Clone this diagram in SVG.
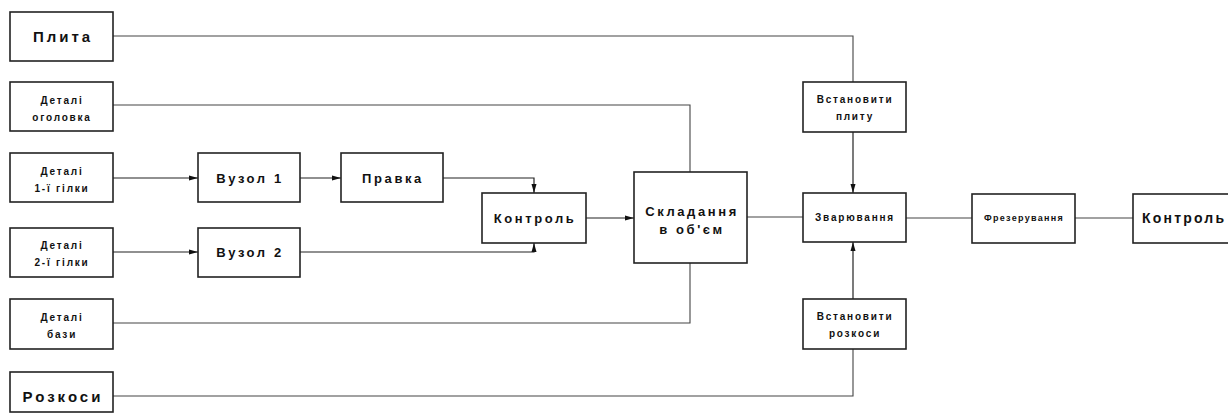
<svg xmlns="http://www.w3.org/2000/svg" width="1228" height="414" viewBox="0 0 1228 414">
  <style>
    .box { fill: #fff; stroke: #222; stroke-width: 1.6; }
    .wire { fill: none; stroke: #444; stroke-width: 1.1; }
    .arr { fill: none; stroke: #222; stroke-width: 1.2; }
    text { font-family: "Liberation Sans", Arial, sans-serif; fill: #111; text-anchor: middle; }
    .big { font-size: 15px; letter-spacing: 3px; font-weight: bold; }
    .mid { font-size: 13px; letter-spacing: 2.6px; font-weight: bold; }
    .sm { font-size: 10px; letter-spacing: 1.8px; font-weight: bold; }
    .xs { font-size: 9px; letter-spacing: 1.3px; font-weight: bold; }
  </style>
  <defs>
    <marker id="ah" markerWidth="9" markerHeight="6" refX="9" refY="3" orient="auto" markerUnits="userSpaceOnUse">
      <path d="M0,0.5 L9,3 L0,5.5 Z" fill="#111"/>
    </marker>
  </defs>

  <!-- connectors -->
  <g id="connectors">
    <polyline class="wire" points="113,36 853,36 853,82"/>
    <polyline class="wire" points="113,105 690,105 690,172"/>
    <line class="arr" x1="113" y1="178" x2="198" y2="178" marker-end="url(#ah)"/>
    <line class="arr" x1="300" y1="178" x2="341" y2="178" marker-end="url(#ah)"/>
    <polyline class="arr" points="443,178 534,178 534,193" marker-end="url(#ah)"/>
    <line class="arr" x1="113" y1="252" x2="198" y2="252" marker-end="url(#ah)"/>
    <polyline class="arr" points="300,252 534,252 534,243" marker-end="url(#ah)"/>
    <line class="arr" x1="586" y1="218" x2="634" y2="218" marker-end="url(#ah)"/>
    <polyline class="wire" points="113,323 690,323 690,263"/>
    <line class="wire" x1="747" y1="217" x2="803" y2="217"/>
    <line class="arr" x1="853" y1="132" x2="853" y2="193" marker-end="url(#ah)"/>
    <line class="arr" x1="853" y1="299" x2="853" y2="242" marker-end="url(#ah)"/>
    <polyline class="wire" points="113,396 853,396 853,349"/>
    <line class="wire" x1="906" y1="218" x2="972" y2="218"/>
    <line class="wire" x1="1075" y1="218" x2="1133" y2="218"/>
  </g>

  <g id="plyta">
    <rect class="box" x="10" y="12" width="103" height="49"/>
    <text class="big" x="63" y="42">Плита</text>
  </g>
  <g id="detali-ogolovka">
    <rect class="box" x="10" y="82" width="103" height="49"/>
    <text class="sm" x="62" y="104">Деталі</text>
    <text class="sm" x="62" y="121">оголовка</text>
  </g>
  <g id="detali-hilka-1">
    <rect class="box" x="10" y="153" width="103" height="49"/>
    <text class="sm" x="62" y="175">Деталі</text>
    <text class="sm" x="62" y="192">1-ї гілки</text>
  </g>
  <g id="vuzol-1">
    <rect class="box" x="198" y="153" width="102" height="49"/>
    <text class="mid" x="250" y="183">Вузол 1</text>
  </g>
  <g id="pravka">
    <rect class="box" x="341" y="153" width="102" height="49"/>
    <text class="mid" x="393" y="183">Правка</text>
  </g>
  <g id="detali-hilka-2">
    <rect class="box" x="10" y="228" width="103" height="49"/>
    <text class="sm" x="62" y="249">Деталі</text>
    <text class="sm" x="62" y="266">2-ї гілки</text>
  </g>
  <g id="vuzol-2">
    <rect class="box" x="198" y="228" width="102" height="49"/>
    <text class="mid" x="250" y="257">Вузол 2</text>
  </g>
  <g id="kontrol-1">
    <rect class="box" x="482" y="193" width="104" height="50"/>
    <text class="mid" x="535" y="223">Контроль</text>
  </g>
  <g id="skladannia">
    <rect class="box" x="634" y="172" width="113" height="91"/>
    <text class="mid" x="692" y="216">Складання</text>
    <text class="mid" x="692" y="234">в об'єм</text>
  </g>
  <g id="detali-bazy">
    <rect class="box" x="10" y="299" width="103" height="50"/>
    <text class="sm" x="62" y="321">Деталі</text>
    <text class="sm" x="62" y="338">бази</text>
  </g>
  <g id="rozkosy">
    <rect class="box" x="10" y="372" width="103" height="40"/>
    <text class="big" x="63" y="402">Розкоси</text>
  </g>
  <g id="vstanovyty-plytu">
    <rect class="box" x="803" y="82" width="103" height="50"/>
    <text class="sm" x="855" y="103">Встановити</text>
    <text class="sm" x="855" y="120">плиту</text>
  </g>
  <g id="zvariuvannia">
    <rect class="box" x="803" y="193" width="103" height="49"/>
    <text class="sm" x="855" y="221">Зварювання</text>
  </g>
  <g id="vstanovyty-rozkosy">
    <rect class="box" x="803" y="299" width="103" height="50"/>
    <text class="sm" x="855" y="320">Встановити</text>
    <text class="sm" x="855" y="337">розкоси</text>
  </g>
  <g id="frezeruvannia">
    <rect class="box" x="972" y="194" width="103" height="49"/>
    <text class="xs" x="1024" y="221">Фрезерування</text>
  </g>
  <g id="kontrol-2">
    <rect class="box" x="1133" y="194" width="110" height="49"/>
    <text class="big" x="1142" y="223" style="text-anchor:start;font-size:14px;letter-spacing:2.2px">Контроль</text>
  </g>
</svg>
